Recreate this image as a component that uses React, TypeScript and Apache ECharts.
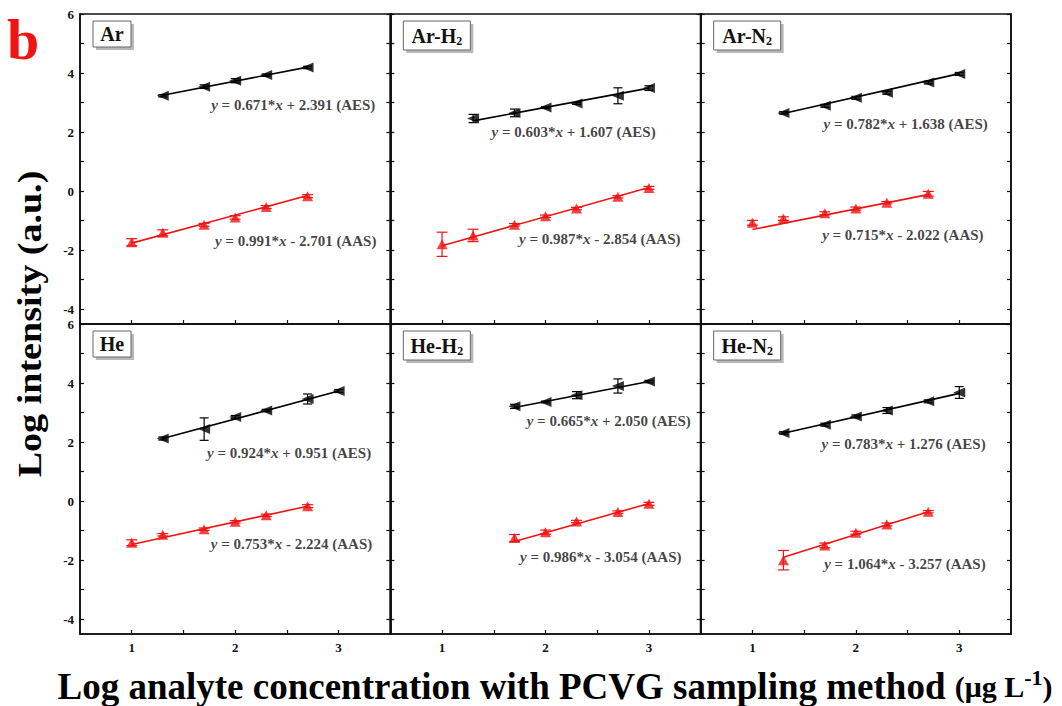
import React, { useEffect, useRef } from "react";
import * as echarts from "echarts";

const FONT = "'Liberation Serif', 'Times New Roman', Times, serif";
const RED = "#f01414";
const BLACK = "#000000";

// ---------- data ----------
const panelBase = ["Ar", "Ar-H", "Ar-N", "He", "He-H", "He-N"];
const panelSub = ["", "2", "2", "", "2", "2"];

const xTicks = [1, 1.5, 2, 2.5, 3];
const xLabels = [1, 2, 3];
const yTicks = [-4, -3, -2, -1, 0, 1, 2, 3, 4, 5, 6];
const yLabels = [-4, -2, 0, 2, 4, 6];

// Ar
const arAesX = [1.3, 1.7, 2.0, 2.3, 2.7];
const arAesY = [3.23, 3.54, 3.74, 3.93, 4.19];
const arAesErr = [0.04, 0.06, 0.07, 0.04, 0.04];
const arAasX = [1.0, 1.3, 1.7, 2.0, 2.3, 2.7];
const arAasY = [-1.73, -1.41, -1.14, -0.89, -0.54, -0.17];
const arAasErr = [0.12, 0.1, 0.05, 0.06, 0.05, 0.05];
const arAesFit = [[1.3, 3.25], [2.7, 4.2]];
const arAasFit = [[1.0, -1.76], [2.7, -0.15]];

// Ar-H2
const arH2AesX = [1.3, 1.7, 2.0, 2.3, 2.7, 3.0];
const arH2AesY = [2.46, 2.65, 2.83, 2.97, 3.23, 3.49];
const arH2AesErr = [0.14, 0.13, 0.03, 0.03, 0.27, 0.08];
const arH2AasX = [1.0, 1.3, 1.7, 2.0, 2.3, 2.7, 3.0];
const arH2AasY = [-1.8, -1.5, -1.14, -0.85, -0.59, -0.19, 0.11];
const arH2AasErr = [0.41, 0.21, 0.04, 0.04, 0.04, 0.04, 0.05];
const arH2AesFit = [[1.3, 2.38], [3.0, 3.49]];
const arH2AasFit = [[1.0, -1.85], [3.0, 0.12]];

// Ar-N2
const arN2AesX = [1.3, 1.7, 2.0, 2.3, 2.7, 3.0];
const arN2AesY = [2.65, 2.89, 3.16, 3.33, 3.68, 3.97];
const arN2AesErr = [0.04, 0.05, 0.05, 0.05, 0.05, 0.05];
const arN2AasX = [1.0, 1.3, 1.7, 2.0, 2.3, 2.7];
const arN2AasY = [-1.07, -0.93, -0.75, -0.59, -0.39, -0.09];
const arN2AasErr = [0.08, 0.06, 0.05, 0.05, 0.04, 0.08];
const arN2AesFit = [[1.3, 2.63], [3.0, 3.98]];
const arN2AasFit = [[1.0, -1.3], [2.72, -0.1]];

// He
const heAesX = [1.3, 1.7, 2.0, 2.3, 2.7, 3.0];
const heAesY = [2.12, 2.44, 2.85, 3.07, 3.46, 3.73];
const heAesErr = [0.05, 0.38, 0.05, 0.04, 0.17, 0.05];
const heAasX = [1.0, 1.3, 1.7, 2.0, 2.3, 2.7];
const heAasY = [-1.41, -1.14, -0.95, -0.7, -0.48, -0.17];
const heAasErr = [0.1, 0.04, 0.04, 0.04, 0.04, 0.05];
const heAesFit = [[1.3, 2.12], [3.0, 3.73]];
const heAasFit = [[1.0, -1.47], [2.7, -0.17]];

// He-H2
const heH2AesX = [1.7, 2.0, 2.3, 2.7, 3.0];
const heH2AesY = [3.21, 3.36, 3.59, 3.9, 4.05];
const heH2AesErr = [0.07, 0.03, 0.12, 0.24, 0.04];
const heH2AasX = [1.7, 2.0, 2.3, 2.7, 3.0];
const heH2AasY = [-1.25, -1.05, -0.69, -0.37, -0.09];
const heH2AasErr = [0.12, 0.07, 0.04, 0.04, 0.05];
const heH2AesFit = [[1.7, 3.17], [3.0, 4.05]];
const heH2AasFit = [[1.7, -1.37], [3.0, -0.08]];

// He-N2
const heN2AesX = [1.3, 1.7, 2.0, 2.3, 2.7, 3.0];
const heN2AesY = [2.31, 2.59, 2.87, 3.07, 3.38, 3.68];
const heN2AesErr = [0.04, 0.05, 0.05, 0.1, 0.05, 0.2];
const heN2AasX = [1.3, 1.7, 2.0, 2.3, 2.7];
const heN2AasY = [-2.0, -1.5, -1.07, -0.79, -0.36];
const heN2AasErr = [0.33, 0.08, 0.05, 0.05, 0.04];
const heN2AesFit = [[1.3, 2.3], [3.0, 3.65]];
const heN2AasFit = [[1.3, -1.9], [2.7, -0.36]];

// fit equations (slope, intercept text)
const aesEq = [
  ["0.671", "+ 2.391"],
  ["0.603", "+ 1.607"],
  ["0.782", "+ 1.638"],
  ["0.924", "+ 0.951"],
  ["0.665", "+ 2.050"],
  ["0.783", "+ 1.276"],
];
const aasEq = [
  ["0.991", "- 2.701"],
  ["0.987", "- 2.854"],
  ["0.715", "- 2.022"],
  ["0.753", "- 2.224"],
  ["0.986", "- 3.054"],
  ["1.064", "- 3.257"],
];

// ---------- layout ----------
// right-end anchor of each equation label, in data coordinates of its panel
const aesEqAnchor = [[3.36, 2.91], [3.07, 2.0], [3.28, 2.27], [3.32, 1.64], [3.41, 2.71], [3.26, 1.93]];
const aasEqAnchor = [[3.37, -1.69], [3.31, -1.61], [3.24, -1.5], [3.33, -1.46], [3.32, -1.9], [3.26, -2.13]];

const PANEL_LEFT = 80;
const PANEL_TOP = 14;
const PANEL_W = 310.33;
const PANEL_H = 310;

const panels = [
  { aesX: arAesX, aesY: arAesY, aesErr: arAesErr, aasX: arAasX, aasY: arAasY, aasErr: arAasErr, aesFit: arAesFit, aasFit: arAasFit },
  { aesX: arH2AesX, aesY: arH2AesY, aesErr: arH2AesErr, aasX: arH2AasX, aasY: arH2AasY, aasErr: arH2AasErr, aesFit: arH2AesFit, aasFit: arH2AasFit },
  { aesX: arN2AesX, aesY: arN2AesY, aesErr: arN2AesErr, aasX: arN2AasX, aasY: arN2AasY, aasErr: arN2AasErr, aesFit: arN2AesFit, aasFit: arN2AasFit },
  { aesX: heAesX, aesY: heAesY, aesErr: heAesErr, aasX: heAasX, aasY: heAasY, aasErr: heAasErr, aesFit: heAesFit, aasFit: heAasFit },
  { aesX: heH2AesX, aesY: heH2AesY, aesErr: heH2AesErr, aasX: heH2AasX, aasY: heH2AasY, aasErr: heH2AasErr, aesFit: heH2AesFit, aasFit: heH2AasFit },
  { aesX: heN2AesX, aesY: heN2AesY, aesErr: heN2AesErr, aasX: heN2AasX, aasY: heN2AasY, aasErr: heN2AasErr, aesFit: heN2AesFit, aasFit: heN2AasFit },
];

function errorBarSeries(i: number, xs: number[], ys: number[], errs: number[], color: string, hw: number) {
  return {
    type: "custom",
    xAxisIndex: i,
    yAxisIndex: i,
    silent: true,
    z: 3,
    encode: { x: 0, y: 1 },
    data: xs.map((x, k) => [x, ys[k], errs[k]]),
    renderItem: (_params: any, api: any) => {
      const x = api.value(0);
      const y = api.value(1);
      const e = api.value(2);
      const t = api.coord([x, y + e]);
      const b = api.coord([x, y - e]);
      const style = { stroke: color, lineWidth: 1.2 };
      return {
        type: "group",
        children: [
          { type: "line", shape: { x1: t[0], y1: t[1], x2: b[0], y2: b[1] }, style },
          { type: "line", shape: { x1: t[0] - hw, y1: t[1], x2: t[0] + hw, y2: t[1] }, style },
          { type: "line", shape: { x1: b[0] - hw, y1: b[1], x2: b[0] + hw, y2: b[1] }, style },
        ],
      };
    },
  };
}

const eqRich = {
  i: { fontFamily: FONT, fontSize: 15, fontWeight: "bold", fontStyle: "italic", color: "#111" },
};

function buildOption() {
  const grid: any[] = [];
  const xAxis: any[] = [];
  const yAxis: any[] = [];
  const series: any[] = [];
  const graphic: any[] = [];

  for (let i = 0; i < 6; i++) {
    const col = i % 3;
    const row = Math.floor(i / 3);
    const left = PANEL_LEFT + col * PANEL_W;
    const top = PANEL_TOP + row * PANEL_H;
    grid.push({
      left,
      top,
      width: PANEL_W,
      height: PANEL_H,
      show: true,
      borderColor: "#111",
      borderWidth: 1.6,
      backgroundColor: "transparent",
    });
    xAxis.push({
      gridIndex: i,
      type: "value",
      min: 0.5,
      max: 3.5,
      axisLine: { show: true, onZero: false, lineStyle: { color: "#111", width: 1.6 } },
      axisTick: { show: true, inside: true, length: 4, customValues: xTicks, lineStyle: { color: "#111", width: 1.2 } },
      axisLabel: {
        show: row === 1,
        customValues: xLabels,
        margin: 7,
        color: "#111",
        fontFamily: FONT,
        fontWeight: "bold",
        fontSize: 13,
      },
      splitLine: { show: false },
    });
    yAxis.push({
      gridIndex: i,
      type: "value",
      position: "left",
      min: -4.5,
      max: 6,
      axisLine: { show: true, onZero: false, lineStyle: { color: "#111", width: 1.6 } },
      axisTick: { show: true, inside: true, length: 4, customValues: yTicks, lineStyle: { color: "#111", width: 1.2 } },
      axisLabel: {
        show: col === 0,
        customValues: yLabels,
        margin: 6,
        color: "#111",
        fontFamily: FONT,
        fontWeight: "bold",
        fontSize: 13,
      },
      splitLine: { show: false },
    });
  }
  for (let i = 0; i < 6; i++) {
    yAxis.push({
      gridIndex: i,
      type: "value",
      position: "right",
      min: -4.5,
      max: 6,
      axisLine: { show: true, onZero: false, lineStyle: { color: "#111", width: 1.6 } },
      axisTick: { show: true, inside: true, length: 4, customValues: yTicks, lineStyle: { color: "#111", width: 1.2 } },
      axisLabel: { show: false },
      splitLine: { show: false },
    });
  }

  panels.forEach((p, i) => {
    // fit lines
    series.push({
      type: "line",
      xAxisIndex: i,
      yAxisIndex: i,
      data: p.aesFit,
      showSymbol: false,
      symbol: "none",
      silent: true,
      z: 2,
      lineStyle: { color: BLACK, width: 1.6 },
    });
    series.push({
      type: "line",
      xAxisIndex: i,
      yAxisIndex: i,
      data: p.aasFit,
      showSymbol: false,
      symbol: "none",
      silent: true,
      z: 2,
      lineStyle: { color: RED, width: 1.6 },
    });
    // error bars
    series.push(errorBarSeries(i, p.aesX, p.aesY, p.aesErr, BLACK, 4.5));
    series.push(errorBarSeries(i, p.aasX, p.aasY, p.aasErr, RED, 5.5));
    // markers
    series.push({
      type: "scatter",
      xAxisIndex: i,
      yAxisIndex: i,
      data: p.aesX.map((x, k) => [x, p.aesY[k]]),
      symbol: "triangle",
      symbolRotate: 90,
      symbolSize: [10, 12],
      itemStyle: { color: BLACK },
      silent: true,
      z: 4,
    });
    series.push({
      type: "scatter",
      xAxisIndex: i,
      yAxisIndex: i,
      data: p.aasX.map((x, k) => [x, p.aasY[k]]),
      symbol: "triangle",
      symbolSize: [11, 10],
      itemStyle: { color: RED },
      silent: true,
      z: 4,
    });
    // equation labels
    series.push({
      type: "scatter",
      xAxisIndex: i,
      yAxisIndex: i,
      symbolSize: 1,
      itemStyle: { color: "rgba(0,0,0,0)" },
      silent: true,
      z: 5,
      data: [
        { value: aesEqAnchor[i], eq: `{i|y} = ${aesEq[i][0]}*{i|x} ${aesEq[i][1]} (AES)` },
        { value: aasEqAnchor[i], eq: `{i|y} = ${aasEq[i][0]}*{i|x} ${aasEq[i][1]} (AAS)` },
      ],
      label: {
        show: true,
        position: "left",
        distance: 0,
        formatter: (params: any) => params.data.eq,
        fontFamily: FONT,
        fontSize: 15,
        fontWeight: "bold",
        color: "#111",
        rich: eqRich,
      },
    });

    // panel name box
    const col = i % 3;
    const row = Math.floor(i / 3);
    const bx = PANEL_LEFT + col * PANEL_W + 13;
    const by = PANEL_TOP + row * PANEL_H + 7;
    const hasSub = panelSub[i] !== "";
    const bw = hasSub ? 67 : 38;
    const bh = hasSub ? 29 : 26;
    graphic.push({
      type: "group",
      silent: true,
      children: [
        { type: "rect", shape: { x: bx + 3, y: by + 3, width: bw, height: bh }, style: { fill: "#b8b8b8" } },
        { type: "rect", shape: { x: bx, y: by, width: bw, height: bh }, style: { fill: "#ffffff", stroke: "#666", lineWidth: 1 } },
        {
          type: "text",
          x: bx + bw / 2,
          y: by + bh / 2,
          style: {
            text: hasSub ? `{m|${panelBase[i]}}{s|${panelSub[i]}}` : `{m|${panelBase[i]}}`,
            textAlign: "center",
            textVerticalAlign: "middle",
            rich: {
              m: { fontFamily: FONT, fontSize: 20, fontWeight: "bold", fill: "#111", lineHeight: 22 },
              s: { fontFamily: FONT, fontSize: 12, fontWeight: "bold", fill: "#111", lineHeight: 12, verticalAlign: "bottom" },
            },
          },
        },
      ],
    });
  });

  // panel letter
  graphic.push({
    type: "text",
    x: 7,
    y: 39,
    silent: true,
    style: {
      text: "b",
      fontFamily: FONT,
      fontSize: 58,
      fontWeight: "bold",
      fill: RED,
      textAlign: "left",
      textVerticalAlign: "middle",
    },
  });
  // y title
  graphic.push({
    type: "text",
    x: 30,
    y: 324,
    rotation: Math.PI / 2,
    scaleX: 1.12,
    silent: true,
    style: {
      text: "Log intensity (a.u.)",
      fontFamily: FONT,
      fontSize: 34,
      fontWeight: "bold",
      fill: "#000",
      textAlign: "center",
      textVerticalAlign: "middle",
    },
  });
  // x title
  graphic.push({
    type: "text",
    x: 555,
    y: 686,
    silent: true,
    style: {
      text: "{m|Log analyte concentration with PCVG sampling method }{p|(\u03bcg L}{s|-1}{p|)}",
      textAlign: "center",
      textVerticalAlign: "middle",
      rich: {
        m: { fontFamily: FONT, fontSize: 37, fontWeight: "bold", fill: "#000", lineHeight: 40 },
        p: { fontFamily: FONT, fontSize: 30, fontWeight: "bold", fill: "#000", lineHeight: 40 },
        s: { fontFamily: FONT, fontSize: 22, fontWeight: "bold", fill: "#000", lineHeight: 20, verticalAlign: "top" },
      },
    },
  });

  return {
    animation: false,
    backgroundColor: "#ffffff",
    grid,
    xAxis,
    yAxis,
    series,
    graphic,
  };
}

export default function App() {
  const ref = useRef<HTMLDivElement>(null);
  useEffect(() => {
    if (!ref.current) return;
    const chart = echarts.init(ref.current, undefined, { renderer: "svg" });
    chart.setOption(buildOption() as any);
    return () => chart.dispose();
  }, []);
  return (
    <div
      ref={ref}
      style={{ position: "fixed", left: 0, top: 0, width: 1062, height: 706, background: "#fff" }}
    />
  );
}
